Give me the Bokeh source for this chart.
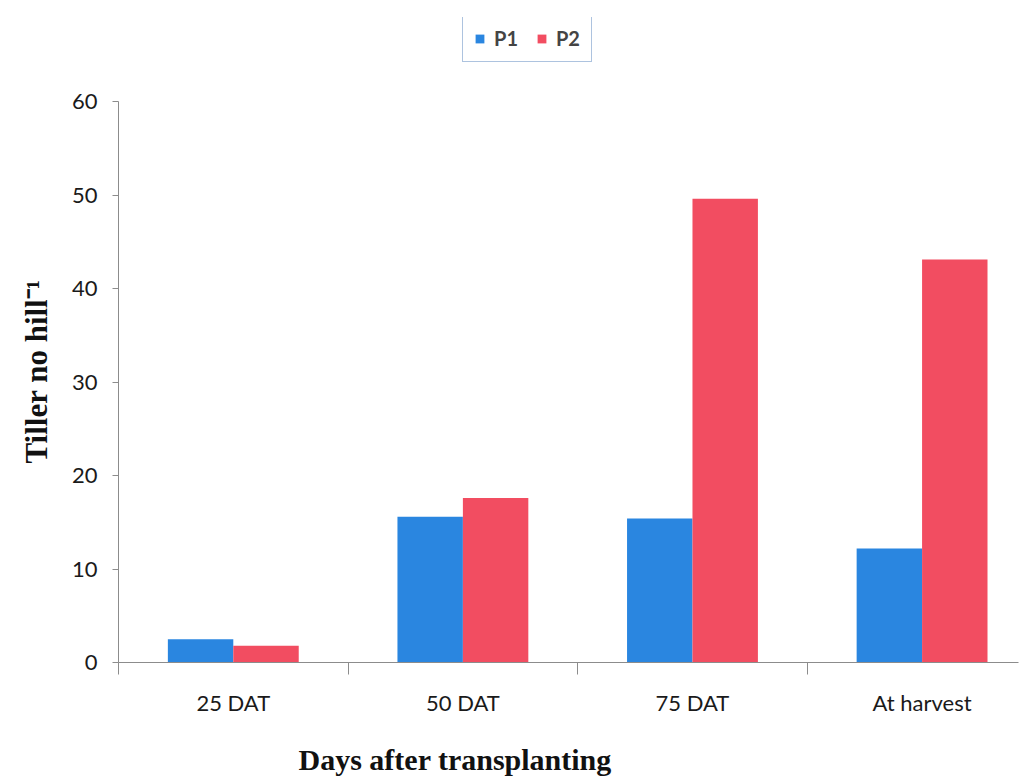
from bokeh.plotting import figure
from bokeh.models import Range1d, FixedTicker, Legend, LegendItem, Title, ColumnDataSource
from bokeh.embed import file_html
from bokeh.resources import INLINE

categories = ["25 DAT", "50 DAT", "75 DAT", "At harvest"]
p1_values = [2.5, 15.6, 15.4, 12.2]
p2_values = [1.8, 17.6, 49.6, 43.1]
series_names = ["P1", "P2"]
y_ticks = [0, 10, 20, 30, 40, 50, 60]

BLUE = "#2a86e0"
RED = "#f24d61"

centers = [i + 0.5 for i in range(len(categories))]
bar_w = 0.285
src = ColumnDataSource(dict(
    x1=[c - bar_w / 2 for c in centers],
    x2=[c + bar_w / 2 for c in centers],
    p1=p1_values, p2=p2_values,
))

p = figure(width=1026, height=798, output_backend="svg", toolbar_location=None,
           x_range=Range1d(0, 3.92), y_range=Range1d(0, 69),
           min_border_left=118, min_border_right=8, min_border_top=17, min_border_bottom=136)
p.outline_line_color = None
p.xgrid.grid_line_color = None
p.ygrid.grid_line_color = None

r1 = p.vbar(x="x1", top="p1", width=bar_w, source=src, fill_color=BLUE, line_color=None)
r2 = p.vbar(x="x2", top="p2", width=bar_w, source=src, fill_color=RED, line_color=None)

# y axis
p.yaxis.ticker = FixedTicker(ticks=y_ticks)
p.yaxis.bounds = (0, 60)
p.yaxis.axis_line_color = "#8c8c8c"
p.yaxis.major_tick_line_color = "#8c8c8c"
p.yaxis.major_tick_out = 6
p.yaxis.major_tick_in = 0
p.yaxis.minor_tick_line_color = None
p.yaxis.major_label_text_font = "Lato"
p.yaxis.major_label_text_font_size = "22px"
p.yaxis.major_label_text_color = "#1a1a1a"
p.yaxis.major_label_standoff = 15

# y axis title as a side title so it can be placed along the axis
yt = Title(text="Tiller no hill⁻¹", align="left", offset=199,
           text_font="Liberation Serif", text_font_style="bold",
           text_font_size="31px", text_color="#111111", standoff=30)
p.add_layout(yt, "left")

# x axis
p.xaxis.ticker = FixedTicker(ticks=centers, minor_ticks=[0, 1, 2, 3, 4])
p.xaxis.major_label_overrides = {c: lab for c, lab in zip(centers, categories)}
p.xaxis.axis_line_color = "#8c8c8c"
p.xaxis.major_tick_line_color = None
p.xaxis.major_tick_out = 0
p.xaxis.major_tick_in = 0
p.xaxis.minor_tick_line_color = "#8c8c8c"
p.xaxis.minor_tick_out = 12
p.xaxis.minor_tick_in = 0
p.xaxis.major_label_text_font = "Lato"
p.xaxis.major_label_text_font_size = "22px"
p.xaxis.major_label_text_color = "#1a1a1a"
p.xaxis.major_label_standoff = 14

# x axis title (offset to the left as in original)
xt = Title(text="Days after transplanting", align="left", offset=180,
           text_font="Liberation Serif", text_font_style="bold",
           text_font_size="30px", text_color="#111111", standoff=45)
p.add_layout(xt, "below")

legend = Legend(items=[LegendItem(label=series_names[0], renderers=[r1]),
                       LegendItem(label=series_names[1], renderers=[r2])],
                orientation="horizontal", location=(344, 600))
legend.border_line_color = "#5b87c0"
legend.border_line_width = 1.5
legend.label_text_font = "Lato"
legend.label_text_font_style = "bold"
legend.label_text_font_size = "20px"
legend.glyph_width = 11
legend.glyph_height = 11
legend.label_standoff = 9
legend.spacing = 18
legend.padding = 11
legend.margin = 0
p.add_layout(legend)

open("out.html", "w").write(file_html(p, INLINE))
